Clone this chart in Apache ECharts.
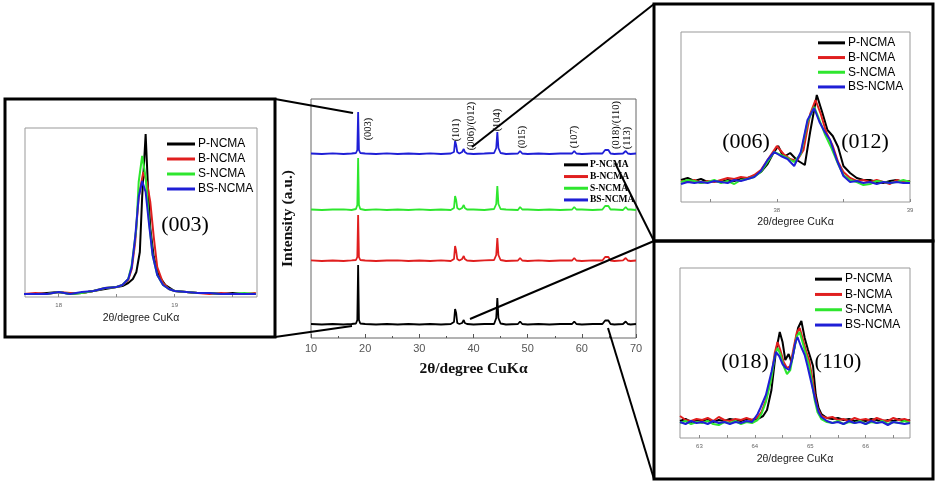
<!DOCTYPE html>
<html>
<head>
<meta charset="utf-8">
<script src="https://cdn.jsdelivr.net/npm/echarts@6/dist/echarts.min.js"></script>
<style>
html, body { margin: 0; padding: 0; background: #fff; }
#chart { width: 941px; height: 486px; }
</style>
</head>
<body>
<div id="chart"></div>
<script>
var sampleNames = ['P-NCMA', 'B-NCMA', 'S-NCMA', 'BS-NCMA']
var sampleColors = ['#000000', '#e01f1f', '#2ee62e', '#1f1fd6']

// full pattern, 2θ shared by all samples
var mainTheta = [10, 12, 14, 16, 17.5, 18.3, 18.55, 18.7, 18.85, 19.1,
  20, 22, 24, 26, 28, 30, 32, 34, 35.8, 36.4,
  36.6, 36.8, 37.0, 37.4, 37.9, 38.2, 38.4, 38.8, 40, 42,
  43.8, 44.2, 44.4, 44.6, 45, 46, 48.2, 48.6, 49, 50,
  52, 54, 56, 58.2, 58.6, 59, 60, 62, 63.8, 64.3,
  64.6, 64.9, 65.3, 66, 67.6, 68.1, 68.5, 69, 70]
var mainP = [1, 0.5, 1, 0.5, 1, 1.5, 5, 60, 5, 1.5,
  1, 0.5, 1, 0.5, 1, 0.5, 1, 0.5, 1, 3,
  16, 12, 2, 1, 2, 5, 2, 1, 0.5, 1,
  1, 7, 27, 7, 1.5, 0.5, 1, 3.5, 1, 0.5,
  1, 0.5, 1, 1, 3.5, 1, 0.5, 1, 1, 4.5,
  5.5, 4.5, 1, 0.5, 1, 3.5, 1, 0.5, 1]
var mainB = [0.6, 0, 0.5, 0, 0.6, 1, 4, 46, 4, 1,
  0.5, 0, 0.5, 0.6, 0, 0.5, 0, 0.6, 0, 2,
  15, 10, 2, 0.5, 2, 5, 2, 0.5, 0, 0.6,
  1, 6, 23, 6, 1, 0, 0.5, 3, 0.5, 0,
  0.6, 0, 0.5, 0.5, 3, 0.5, 0, 0.6, 0.5, 4,
  5, 4, 0.5, 0, 0.6, 3, 0.5, 0, 0.5]
var mainS = [0.5, 0, 0.5, 0.6, 0, 1, 5, 52, 5, 1,
  0, 0.6, 0, 0.5, 0, 0.6, 0, 0.5, 0, 2,
  14, 10, 2, 0.5, 2, 5, 2, 0.5, 0.5, 0,
  1, 6, 24, 6, 1, 0.5, 0, 3, 0.5, 0.5,
  0, 0.5, 0, 0.5, 3, 0.5, 0.5, 0, 0.5, 4,
  5, 4, 0.5, 0.5, 0, 3, 0.5, 0.5, 0]
var mainBS = [0.5, 0, 0.6, 0, 0.5, 1, 4, 42, 4, 1,
  0.5, 0, 0.6, 0, 0.5, 0, 0.6, 0, 0.5, 2,
  13, 9, 2, 0.5, 2, 5, 2, 0.5, 0, 0.5,
  1, 6, 22, 6, 1, 0, 0.5, 3, 0.5, 0,
  0.5, 0, 0.5, 0.5, 3, 0.5, 0, 0.5, 0.5, 4,
  5, 4, 0.5, 0, 0.5, 3, 0.5, 0, 0.5]
var stackOffset = [13, 77, 128, 184]

// (003) zoom
var z003P = [[17.7, 3], [17.8, 3], [17.9, 4], [18.0, 5], [18.1, 3], [18.2, 4], [18.3, 6], [18.4, 8], [18.5, 10], [18.55, 11], [18.6, 14], [18.64, 18], [18.67, 25], [18.7, 45], [18.72, 100], [18.75, 163], [18.77, 110], [18.79, 69], [18.82, 40], [18.86, 22], [18.92, 12], [19.0, 6], [19.1, 5], [19.2, 4], [19.3, 4], [19.4, 3], [19.5, 4], [19.6, 3], [19.7, 3]]
var z003B = [[17.7, 3], [17.8, 4], [17.9, 3], [18.0, 5], [18.1, 4], [18.2, 4], [18.3, 6], [18.4, 9], [18.5, 10], [18.55, 12], [18.6, 17], [18.63, 28], [18.66, 55], [18.69, 100], [18.73, 125], [18.76, 115], [18.79, 95], [18.82, 60], [18.85, 30], [18.9, 14], [18.95, 8], [19.0, 6], [19.1, 5], [19.2, 4], [19.3, 3], [19.4, 4], [19.5, 3], [19.6, 3], [19.7, 4]]
var z003S = [[17.7, 3], [17.8, 3], [17.9, 3], [18.0, 5], [18.1, 3], [18.2, 4], [18.3, 6], [18.4, 9], [18.5, 10], [18.55, 12], [18.6, 18], [18.63, 32], [18.67, 69], [18.69, 115], [18.72, 141], [18.75, 120], [18.78, 75], [18.81, 42], [18.85, 22], [18.9, 12], [18.95, 8], [19.0, 6], [19.1, 5], [19.2, 4], [19.3, 4], [19.4, 3], [19.5, 3], [19.6, 4], [19.7, 3]]
var z003BS = [[17.7, 3], [17.8, 3], [17.9, 3], [18.0, 5], [18.1, 3], [18.2, 5], [18.3, 6], [18.4, 9], [18.5, 10], [18.55, 12], [18.6, 18], [18.63, 30], [18.66, 60], [18.69, 100], [18.72, 116], [18.75, 105], [18.78, 72], [18.81, 42], [18.85, 22], [18.9, 12], [18.95, 8], [19.0, 6], [19.1, 5], [19.2, 4], [19.3, 4], [19.4, 3], [19.5, 3], [19.6, 3], [19.7, 3]]

// (006)/(012) zoom
var z006P = [[37.28, 22], [37.33, 24], [37.38, 21], [37.43, 23], [37.48, 20], [37.53, 21], [37.58, 20], [37.63, 22], [37.68, 21], [37.73, 23], [37.78, 24], [37.83, 26], [37.88, 30], [37.93, 38], [37.97, 48], [38.01, 56], [38.05, 45], [38.1, 49], [38.15, 42], [38.21, 37], [38.25, 70], [38.3, 107], [38.34, 90], [38.38, 72], [38.42, 66], [38.46, 55], [38.5, 36], [38.55, 29], [38.6, 24], [38.65, 22], [38.7, 22], [38.75, 20], [38.8, 19], [38.85, 21], [38.9, 22], [38.95, 20], [39.0, 21]]
var z006B = [[37.28, 21], [37.33, 20], [37.38, 22], [37.43, 19], [37.48, 21], [37.53, 20], [37.58, 22], [37.63, 24], [37.68, 23], [37.73, 25], [37.78, 24], [37.83, 27], [37.88, 32], [37.93, 42], [37.97, 50], [38.0, 56], [38.05, 48], [38.1, 43], [38.15, 41], [38.2, 52], [38.25, 88], [38.29, 102], [38.33, 88], [38.37, 70], [38.42, 56], [38.46, 40], [38.5, 30], [38.55, 24], [38.6, 21], [38.65, 22], [38.7, 20], [38.75, 22], [38.8, 20], [38.85, 18], [38.9, 22], [38.95, 20], [39.0, 21]]
var z006S = [[37.28, 20], [37.33, 22], [37.38, 21], [37.43, 19], [37.48, 20], [37.53, 22], [37.58, 19], [37.63, 21], [37.68, 18], [37.73, 22], [37.78, 23], [37.83, 25], [37.88, 30], [37.93, 40], [37.98, 50], [38.03, 47], [38.08, 44], [38.13, 40], [38.18, 48], [38.23, 80], [38.28, 95], [38.32, 82], [38.36, 68], [38.41, 54], [38.46, 38], [38.5, 27], [38.55, 22], [38.6, 20], [38.65, 17], [38.7, 18], [38.75, 21], [38.8, 20], [38.85, 19], [38.9, 20], [38.95, 22], [39.0, 20]]
var z006BS = [[37.28, 18], [37.33, 20], [37.38, 19], [37.43, 20], [37.48, 19], [37.53, 21], [37.58, 20], [37.63, 19], [37.68, 22], [37.73, 21], [37.78, 23], [37.83, 25], [37.88, 31], [37.93, 42], [37.98, 50], [38.03, 46], [38.08, 43], [38.13, 36], [38.18, 50], [38.23, 82], [38.28, 94], [38.32, 80], [38.36, 70], [38.4, 62], [38.45, 42], [38.5, 26], [38.55, 20], [38.6, 21], [38.65, 19], [38.7, 20], [38.75, 18], [38.8, 20], [38.85, 19], [38.9, 20], [38.95, 19], [39.0, 19]]

// (018)/(110) zoom
var z018P = [[62.65, 17], [62.75, 19], [62.85, 16], [62.95, 18], [63.05, 17], [63.15, 19], [63.25, 16], [63.35, 18], [63.45, 17], [63.55, 19], [63.65, 18], [63.75, 17], [63.85, 19], [63.95, 18], [64.05, 19], [64.15, 22], [64.22, 28], [64.3, 48], [64.38, 86], [64.45, 106], [64.5, 96], [64.55, 78], [64.61, 84], [64.66, 76], [64.72, 92], [64.78, 110], [64.84, 117], [64.9, 100], [64.96, 88], [65.0, 81], [65.05, 72], [65.1, 43], [65.15, 30], [65.2, 24], [65.3, 20], [65.4, 19], [65.5, 20], [65.6, 18], [65.7, 19], [65.8, 17], [65.9, 18], [66.0, 17], [66.1, 19], [66.2, 18], [66.3, 16], [66.4, 18], [66.5, 17], [66.6, 19], [66.7, 17], [66.8, 18]]
var z018B = [[62.65, 22], [62.75, 18], [62.85, 17], [62.95, 19], [63.05, 18], [63.15, 20], [63.25, 17], [63.35, 21], [63.45, 18], [63.55, 17], [63.65, 19], [63.75, 18], [63.85, 20], [63.95, 18], [64.05, 21], [64.12, 26], [64.2, 38], [64.3, 62], [64.36, 85], [64.41, 96], [64.46, 88], [64.52, 76], [64.58, 70], [64.64, 72], [64.7, 90], [64.76, 106], [64.81, 110], [64.87, 98], [64.93, 86], [64.98, 78], [65.03, 62], [65.08, 44], [65.13, 30], [65.2, 22], [65.3, 20], [65.4, 21], [65.5, 18], [65.6, 19], [65.7, 17], [65.8, 20], [65.9, 18], [66.0, 19], [66.1, 17], [66.2, 20], [66.3, 18], [66.4, 17], [66.5, 20], [66.6, 18], [66.7, 19], [66.8, 17]]
var z018S = [[62.65, 15], [62.75, 17], [62.85, 14], [62.95, 16], [63.05, 15], [63.15, 17], [63.25, 14], [63.35, 13], [63.45, 16], [63.55, 15], [63.65, 17], [63.75, 14], [63.85, 16], [63.95, 15], [64.05, 18], [64.12, 24], [64.2, 36], [64.3, 60], [64.36, 82], [64.41, 90], [64.46, 84], [64.52, 72], [64.58, 64], [64.64, 68], [64.7, 86], [64.76, 102], [64.81, 106], [64.87, 94], [64.93, 82], [64.98, 72], [65.03, 56], [65.08, 38], [65.13, 26], [65.2, 19], [65.3, 16], [65.4, 15], [65.5, 17], [65.6, 14], [65.7, 16], [65.8, 15], [65.9, 17], [66.0, 14], [66.1, 16], [66.2, 15], [66.3, 17], [66.4, 14], [66.5, 16], [66.6, 15], [66.7, 17], [66.8, 15]]
var z018BS = [[62.65, 16], [62.75, 14], [62.85, 17], [62.95, 15], [63.05, 16], [63.15, 14], [63.25, 17], [63.35, 15], [63.45, 16], [63.55, 14], [63.65, 16], [63.75, 15], [63.85, 17], [63.95, 16], [64.05, 24], [64.1, 30], [64.2, 43], [64.3, 66], [64.38, 86], [64.44, 82], [64.5, 74], [64.56, 70], [64.62, 68], [64.68, 80], [64.73, 95], [64.77, 101], [64.83, 92], [64.9, 83], [64.95, 72], [65.0, 60], [65.05, 48], [65.1, 36], [65.15, 26], [65.2, 21], [65.3, 17], [65.4, 15], [65.5, 16], [65.6, 14], [65.7, 17], [65.8, 15], [65.9, 16], [66.0, 14], [66.1, 17], [66.2, 15], [66.3, 16], [66.4, 13], [66.5, 16], [66.6, 15], [66.7, 14], [66.8, 15]]

var peakLabels = ['(003)', '(101)', '(006)/(012)', '(104)', '(015)', '(107)', '(018)/(110)', '(113)']

var SERIF = '"Liberation Serif", "Times New Roman", serif'
var SANS = '"Liberation Sans", Arial, sans-serif'

var myChart = echarts.init(document.getElementById('chart'))

function lineSeries(i, data, axisIndex, width) {
  return {
    name: sampleNames[i],
    type: 'line',
    xAxisIndex: axisIndex,
    yAxisIndex: axisIndex,
    data: data,
    symbol: 'none',
    showSymbol: false,
    animation: false,
    silent: true,
    lineStyle: { color: sampleColors[i], width: width },
    itemStyle: { color: sampleColors[i] },
  }
}

function insetX(idx, min, max, labels, ticks, gap) {
  return {
    type: 'value', gridIndex: idx, min: min, max: max,
    axisLine: { show: false },
    splitLine: { show: false },
    axisTick: { inside: true, length: 3, customValues: ticks, lineStyle: { color: '#888' } },
    axisLabel: { customValues: labels, fontSize: 6, color: '#666', margin: 5, fontFamily: SANS },
    name: '2θ/degree CuKα', nameLocation: 'middle', nameGap: gap,
    nameTextStyle: { fontFamily: SANS, fontSize: 10.5, color: '#222' },
  }
}

function insetLegend(left, top, row, iw) {
  return {
    data: sampleNames, orient: 'vertical', left: left, top: top, padding: 0, itemGap: 0,
    icon: 'rect', itemWidth: iw, itemHeight: 3, selectedMode: false,
    textStyle: { fontFamily: SANS, fontSize: 12, color: '#000', lineHeight: row, padding: [0, 0, 0, -2] },
  }
}

var mainData = [mainP, mainB, mainS, mainBS]
var zoomData = [
  [z003P, z003B, z003S, z003BS],
  [z006P, z006B, z006S, z006BS],
  [z018P, z018B, z018S, z018BS],
]

var series = []
mainData.forEach(function (vals, i) {
  series.push(lineSeries(i, mainTheta.map(function (t, k) { return [t, vals[k] + stackOffset[i]] }), 0, 1.8))
})
zoomData.forEach(function (set, g) {
  set.forEach(function (d, i) { series.push(lineSeries(i, d, g + 1, 2)) })
})

// peak label spots (px) and the zoom connector lines
var labelSpots = [[368, 129], [456, 130], [471, 126], [497, 120], [522, 137], [574, 137], [616, 125], [627, 138]]
var graphic = []
peakLabels.forEach(function (txt, i) {
  graphic.push({
    type: 'text', x: labelSpots[i][0], y: labelSpots[i][1], rotation: Math.PI / 2, z: 50,
    style: { text: txt, fontFamily: SERIF, fontSize: 10.5, fill: '#000', align: 'center', verticalAlign: 'middle' },
  })
})
var bigText = [['(003)', 185, 225], ['(006)', 746, 142], ['(012)', 865, 142], ['(018)', 745, 362], ['(110)', 838, 362]]
bigText.forEach(function (b) {
  graphic.push({
    type: 'text', x: b[1], y: b[2], z: 50,
    style: { text: b[0], fontFamily: SERIF, fontSize: 22, fill: '#000', align: 'center', verticalAlign: 'middle' },
  })
})
var boxes = [[5, 99, 270, 238], [654, 4, 279, 237], [654, 241, 279, 238]]
boxes.forEach(function (r) {
  graphic.push({ type: 'rect', z: 60, shape: { x: r[0], y: r[1], width: r[2], height: r[3] }, style: { fill: 'none', stroke: '#000', lineWidth: 3 } })
})
var links = [[275, 99, 353, 113], [275, 337, 352, 326], [472, 147, 654, 4], [470, 319, 654, 241], [615, 163, 654, 241], [608, 328, 654, 479]]
links.forEach(function (l) {
  graphic.push({ type: 'line', z: 60, shape: { x1: l[0], y1: l[1], x2: l[2], y2: l[3] }, style: { stroke: '#000', lineWidth: 2 } })
})

var option = {
  backgroundColor: '#fff',
  animation: false,
  grid: [
    { left: 311, top: 99, width: 325, height: 239, show: true, borderColor: '#666', borderWidth: 1 },
    { left: 25, top: 128, width: 232, height: 169, show: true, borderColor: '#999', borderWidth: 1 },
    { left: 681, top: 32, width: 229, height: 170, show: true, borderColor: '#999', borderWidth: 1 },
    { left: 680, top: 268, width: 230, height: 170, show: true, borderColor: '#999', borderWidth: 1 },
  ],
  xAxis: [
    {
      type: 'value', gridIndex: 0, min: 10, max: 70, interval: 10,
      axisLine: { show: false },
      splitLine: { show: false },
      axisTick: { inside: true, length: 4, lineStyle: { color: '#555' } },
      minorTick: { show: true, splitNumber: 2, length: 2, lineStyle: { color: '#555' } },
      axisLabel: { fontSize: 11, color: '#555', margin: 5, fontFamily: SANS },
      name: '2θ/degree CuKα', nameLocation: 'middle', nameGap: 23,
      nameTextStyle: { fontFamily: SERIF, fontWeight: 'bold', fontSize: 15.5, color: '#111' },
    },
    insetX(1, 17.71, 19.71, [18, 19], [18, 18.5, 19, 19.5], 16),
    insetX(2, 37.28, 39, [38, 39], [37.5, 38, 38.5, 39], 15),
    insetX(3, 62.65, 66.8, [63, 64, 65, 66], [63, 63.5, 64, 64.5, 65, 65.5, 66, 66.5], 16),
  ],
  yAxis: [
    {
      type: 'value', gridIndex: 0, min: 0, max: 239,
      axisLine: { show: false }, axisTick: { show: false }, axisLabel: { show: false }, splitLine: { show: false },
      name: 'Intensity (a.u.)', nameLocation: 'middle', nameGap: 15,
      nameTextStyle: { fontFamily: SERIF, fontWeight: 'bold', fontSize: 15.5, color: '#111' },
    },
    { type: 'value', gridIndex: 1, min: 0, max: 169, show: false },
    { type: 'value', gridIndex: 2, min: 0, max: 170, show: false },
    { type: 'value', gridIndex: 3, min: 0, max: 170, show: false },
  ],
  legend: [
    {
      data: sampleNames, orient: 'vertical', left: 564, top: 159, padding: 0, itemGap: 0,
      icon: 'rect', itemWidth: 24, itemHeight: 3, selectedMode: false,
      textStyle: { fontFamily: SERIF, fontWeight: 'bold', fontSize: 9.5, color: '#000', lineHeight: 11.7, padding: [0, 0, 0, -3] },
    },
    insetLegend(167, 136.5, 15, 28),
    insetLegend(818, 35.5, 14.7, 27),
    insetLegend(815, 271.5, 15.3, 27),
  ],
  series: series,
  graphic: graphic,
}
myChart.setOption(option, true)
</script>
</body>
</html>
